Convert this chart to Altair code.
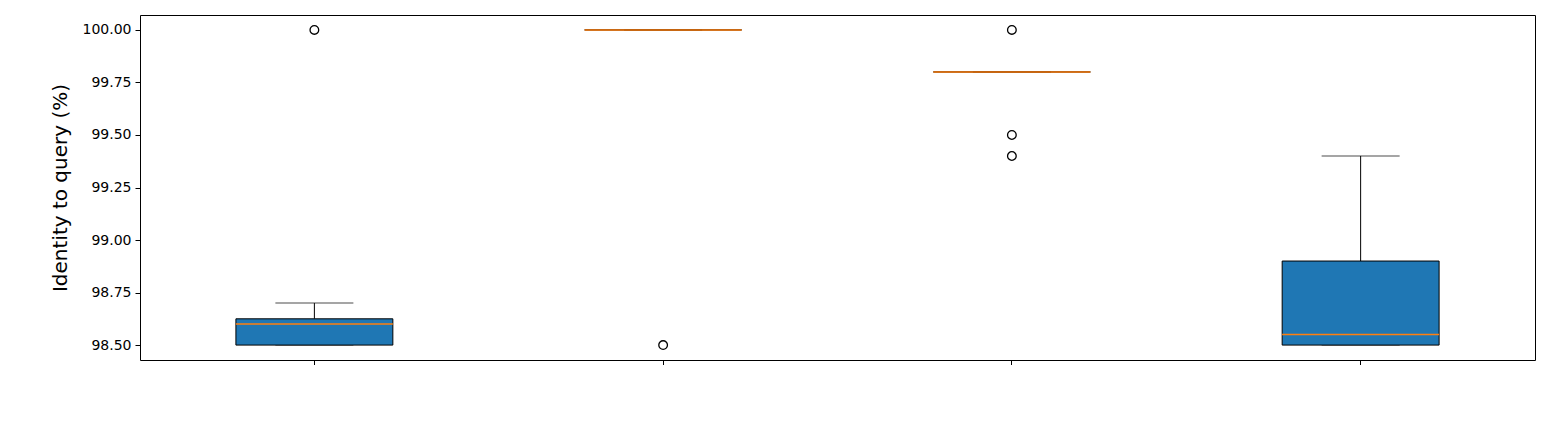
import altair as alt
import pandas as pd

genus = ["Wahlgreniella", "Aphidinae", "Rhodobium", "Ericaphis"]
q1 = [98.5, 100.0, 99.8, 98.5]
median = [98.6, 100.0, 99.8, 98.55]
q3 = [98.625, 100.0, 99.8, 98.9]
whisk_lo = [98.5, 100.0, 99.8, 98.5]
whisk_hi = [98.7, 100.0, 99.8, 99.4]

out_genus = ["Wahlgreniella", "Aphidinae", "Rhodobium", "Rhodobium", "Rhodobium"]
out_value = [100.0, 98.5, 100.0, 99.5, 99.4]

stats = pd.DataFrame({"genus": genus, "q1": q1, "median": median, "q3": q3,
                      "lo": whisk_lo, "hi": whisk_hi})
outliers = pd.DataFrame({"genus": out_genus, "value": out_value})

x = alt.X("genus:N", sort=genus, title="Genus",
          scale=alt.Scale(paddingInner=0, paddingOuter=0),
          axis=alt.Axis(labelAngle=0, labelFontSize=14, titleFontSize=20,
                        titleFontWeight="normal", tickColor="black", domain=False,
                        labelColor="black", titleColor="black", labelPadding=6,
                        titlePadding=8))
yscale = alt.Scale(domain=[98.429, 100.071], nice=False, zero=False)
yaxis = alt.Axis(format=".2f", values=[98.5, 98.75, 99.0, 99.25, 99.5, 99.75, 100.0],
                 labelFontSize=14, titleFontSize=20, titleFontWeight="normal",
                 grid=False, tickColor="black", domain=False, labelPadding=4,
                 labelColor="black", titleColor="black", titlePadding=12)

base = alt.Chart(stats).encode(x=x)

whisk_top = base.mark_rule(color="black").encode(
    y=alt.Y("q3:Q", scale=yscale, axis=yaxis, title="Identity to query (%)"), y2="hi:Q")
whisk_bot = base.mark_rule(color="black").encode(y=alt.Y("lo:Q"), y2="q1:Q")
cap_hi = base.mark_tick(color="black", orient="horizontal", size=78, thickness=1).encode(y="hi:Q")
cap_lo = base.mark_tick(color="black", orient="horizontal", size=78, thickness=1).encode(y="lo:Q")
box = base.mark_bar(width=alt.RelativeBandSize(0.45), color="#1f77b4",
                    stroke="black", strokeWidth=1).encode(y="q1:Q", y2="q3:Q")
med = base.mark_tick(color="#ff7f0e", orient="horizontal", size=157, thickness=1.5,
                     opacity=1).encode(y="median:Q")
pts = alt.Chart(outliers).mark_point(shape="circle", filled=False, color="black",
                                     size=75, strokeWidth=1.3, opacity=1).encode(
    x=alt.X("genus:N", sort=genus), y="value:Q")

chart = alt.layer(whisk_top, whisk_bot, cap_hi, cap_lo, box, med, pts).properties(
    width=1395, height=345, autosize=alt.AutoSizeParams(type="none"),
    padding={"left": 132, "top": 7, "right": 5, "bottom": 5}
).configure(font="DejaVu Sans").configure_view(stroke="black", strokeWidth=1)

chart.save("out.html", embed_options={"renderer": "svg", "actions": False})
